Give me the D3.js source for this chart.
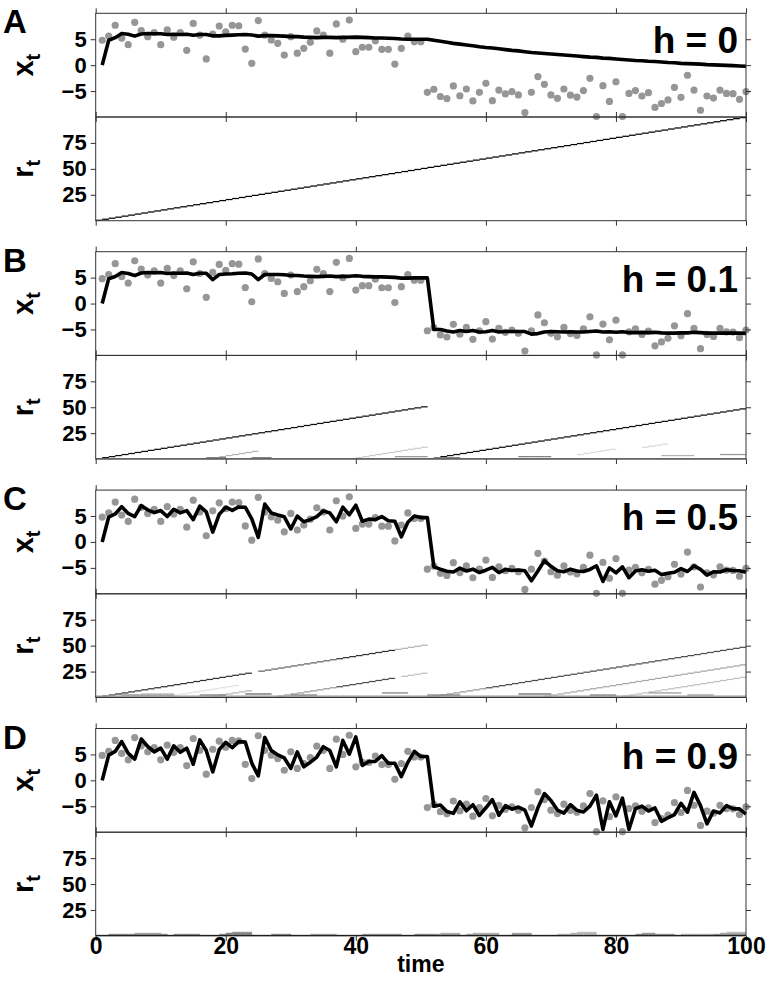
<!DOCTYPE html>
<html><head><meta charset="utf-8">
<script src="https://cdn.jsdelivr.net/npm/d3@7"></script>
<style>body{margin:0;background:#fff}svg{display:block}</style>
</head><body><svg id="c" width="771" height="1001"></svg>
<script>
const obs = [4.8,5.6,7.7,5.2,3.95,8.25,6.65,5.5,6.3,3.95,6.8,5.4,6.3,2.85,8.05,5.8,1.2,6.0,7.55,6.4,
7.7,7.6,3.1,0.35,8.6,5.8,4.85,4.2,1.95,5.5,2.3,3.25,4.4,6.6,5.8,2.3,7.95,5.0,8.7,2.6,
3.45,3.45,4.7,3.05,3.05,0.2,3.25,5.6,4.5,4.5,-5.25,-4.65,-6.05,-6.45,-4.0,-5.9,-4.6,-6.9,-5.25,-3.5,
-6.85,-4.8,-5.55,-5.1,-5.75,-9.15,-5.25,-2.2,-3.7,-5.75,-6.4,-4.6,-5.8,-6.15,-4.9,-2.55,-9.9,-3.95,-7.0,-3.2,
-9.9,-5.45,-4.9,-5.95,-5.3,-8.15,-7.4,-6.7,-4.3,-6.2,-1.95,-4.8,-8.7,-5.95,-6.35,-4.8,-5.45,-5.5,-6.6,-5.1];

const predA = [0,4.8,5.3,6.1,5.95,5.6,6.0,6.1,6.05,6.05,5.9,5.95,5.9,5.95,5.75,5.9,5.9,5.65,5.65,5.75,
5.8,5.85,5.9,5.8,5.6,5.7,5.7,5.65,5.6,5.5,5.5,5.4,5.35,5.3,5.35,5.35,5.3,5.35,5.35,5.4,
5.35,5.3,5.25,5.25,5.2,5.15,5.05,5.0,5.0,5.0,5.0,4.8,4.6,4.4,4.2,4.05,3.9,3.75,3.55,3.4,
3.3,3.15,3.0,2.85,2.75,2.6,2.45,2.35,2.25,2.15,2.05,1.95,1.85,1.75,1.65,1.55,1.5,1.35,1.3,1.2,
1.1,1.0,0.9,0.85,0.75,0.7,0.6,0.5,0.45,0.35,0.3,0.25,0.2,0.1,0.05,0.0,-0.05,-0.1,-0.15,-0.2];

const predB = [0,4.8,5.2,6.0,5.8,5.4,5.9,6.0,5.95,6.0,5.8,5.9,5.85,5.9,5.6,5.85,5.85,4.6,5.6,5.7,
5.75,5.85,5.9,5.7,4.6,5.6,5.6,5.6,5.55,5.4,5.4,5.3,5.25,5.2,5.25,5.3,5.2,5.25,5.25,5.35,
5.25,5.2,5.15,5.15,5.1,5.05,4.9,4.9,4.95,4.95,4.95,-5.0,-5.0,-5.3,-5.5,-5.2,-5.4,-5.2,-5.5,-5.45,
-5.2,-5.5,-5.4,-5.4,-5.4,-5.4,-5.9,-5.8,-5.5,-5.4,-5.45,-5.5,-5.45,-5.5,-5.5,-5.4,-5.3,-5.5,-5.45,-5.55,
-5.45,-5.6,-5.6,-5.55,-5.6,-5.55,-5.65,-5.7,-5.7,-5.65,-5.65,-5.55,-5.6,-5.7,-5.7,-5.7,-5.7,-5.7,-5.7,-5.75];

const predC = [0,4.8,5.4,6.8,5.5,4.9,7.0,6.2,5.65,6.05,4.9,6.3,5.6,6.05,4.3,6.9,5.8,1.9,5.35,6.7,
6.1,6.75,6.7,4.45,0.9,7.3,5.6,5.2,4.85,2.5,5.0,3.9,4.3,4.9,6.0,5.6,3.9,6.7,5.25,7.1,
4.0,4.4,4.3,4.9,4.1,4.0,1.0,3.8,5.0,4.7,4.7,-4.8,-5.25,-5.65,-5.8,-5.05,-5.6,-5.25,-5.9,-5.45,
-4.9,-5.9,-5.3,-5.5,-5.4,-5.55,-7.5,-5.6,-3.6,-4.7,-5.55,-5.75,-5.25,-5.6,-5.7,-5.3,-4.6,-7.6,-5.0,-5.95,
-4.8,-6.9,-5.6,-5.35,-5.65,-5.45,-6.3,-6.05,-5.85,-5.15,-5.7,-4.6,-5.3,-6.4,-5.75,-5.8,-5.35,-5.5,-5.55,-5.85];

const predD = [0,4.86,5.58,7.47,5.22,4.1,7.97,6.53,5.49,6.21,4.1,6.66,5.4,6.21,3.11,7.79,5.76,1.62,5.94,7.34,
6.3,7.47,7.38,3.33,0.86,8.28,5.76,4.91,4.32,2.3,5.49,2.61,3.47,4.5,6.48,5.76,2.61,7.7,5.04,8.37,
2.88,3.65,3.65,4.77,3.29,3.29,0.72,3.47,5.58,4.59,4.59,-5.0,-4.75,-6.0,-6.37,-4.16,-5.87,-4.7,-6.77,-5.29,
-3.71,-6.73,-4.88,-5.56,-5.15,-5.74,-8.8,-5.29,-2.54,-3.89,-5.74,-6.32,-4.7,-5.78,-6.1,-4.97,-2.86,-9.47,-4.12,-6.86,
-3.44,-9.47,-5.47,-4.97,-5.92,-5.33,-7.9,-7.22,-6.59,-4.43,-6.14,-2.32,-4.88,-8.39,-5.92,-6.28,-4.88,-5.47,-5.51,-6.5];

const preds = [predA, predB, predC, predD];
const hazardLabels = ["h = 0", "h = 0.1", "h = 0.5", "h = 0.9"];
const panelLetters = ["A", "B", "C", "D"];
const timeTicks = [0, 20, 40, 60, 80, 100];
const xtTicks = [-5, 0, 5];
const rtTicks = [25, 50, 75];

// run-length posterior, diagonal runs: [changeTime, tFrom, tTo, probability]
const runsA = [[0, 1, 100, 1]];
const runsB = [[0, 1, 51, 0.95], [51, 52, 100, 0.95], [17, 18, 25, 0.3], [39, 40, 51, 0.2],
  [70, 75, 80, 0.15], [73, 85, 88, 0.15]];
const runsC = [[0, 1, 24, 0.8], [0, 26, 37, 0.6], [0, 38, 46, 0.8], [0, 47, 51, 0.3],
  [27, 29, 37, 0.4], [27, 38, 46, 0.7], [27, 48, 51, 0.25], [17, 19, 24, 0.3], [10, 12, 22, 0.12],
  [51, 52, 60, 0.4], [51, 61, 100, 0.7], [68, 70, 100, 0.35], [80, 82, 100, 0.25]];
const runsD = [];
// horizontal bands at low run lengths: [runLength, tFrom, tTo, probability]
const bandsA = [];
const bandsB = [[1, 1, 100, 0.5], [2, 18, 20, 0.5], [2, 25, 27, 0.5], [3, 47, 51, 0.4], [2, 53, 56, 0.5],
  [3, 66, 70, 0.5], [4, 88, 92, 0.3], [5, 97, 100, 0.4]];
const bandsC = [[1, 1, 100, 0.75], [2, 1, 100, 0.35], [3, 5, 12, 0.45], [4, 8, 12, 0.3], [3, 17, 20, 0.5],
  [4, 24, 27, 0.6], [3, 31, 34, 0.5], [5, 45, 48, 0.5], [3, 52, 56, 0.5], [4, 66, 70, 0.6],
  [3, 77, 80, 0.5], [5, 86, 90, 0.4], [3, 92, 95, 0.4]];
const bandsD = [[1, 1, 100, 1], [2, 3, 11, 0.5], [3, 7, 10, 0.35], [2, 13, 16, 0.5], [2, 20, 24, 0.5],
  [3, 21, 24, 0.5], [4, 22, 24, 0.4], [2, 28, 30, 0.5], [2, 34, 37, 0.4], [2, 42, 47, 0.45],
  [2, 50, 52, 0.5], [2, 53, 56, 0.45], [3, 54, 56, 0.3], [2, 58, 62, 0.4], [3, 59, 62, 0.3],
  [2, 65, 67, 0.5], [3, 65, 67, 0.35], [2, 72, 77, 0.35], [3, 74, 77, 0.3], [4, 75, 77, 0.25],
  [2, 84, 86, 0.5], [3, 85, 86, 0.4], [2, 87, 89, 0.45], [2, 91, 95, 0.35], [2, 96, 100, 0.45],
  [3, 97, 100, 0.35], [4, 98, 100, 0.25]];
const runsAll = [runsA, runsB, runsC, runsD];
const bandsAll = [bandsA, bandsB, bandsC, bandsD];

const svg = d3.select("#c");
const L = 95.7, R = 746, H = 103.7;
const tops = [13.3, 251.7, 490.1, 728.5];
const x = d3.scaleLinear().domain([0, 100]).range([L, R]);
const axisColor = "#333";
const font = "'Liberation Sans', Arial, sans-serif";

tops.forEach((top, i) => {
  const g = svg.append("g");
  const yX = d3.scaleLinear().domain([-10, 10]).range([top + H, top]);
  const yR = d3.scaleLinear().domain([0, 100]).range([top + 2 * H, top + H]);

  // heatmap
  const clipId = "clip" + i;
  svg.append("clipPath").attr("id", clipId).append("rect")
    .attr("x", L).attr("y", top + H).attr("width", R - L).attr("height", H);
  const cells = [];
  runsAll[i].forEach(([t0, a, b, p]) => { for (let t = a; t <= b; t++) cells.push({t, k: t - t0, p}); });
  bandsAll[i].forEach(([k, a, b, p]) => { for (let t = a; t <= b; t++) cells.push({t, k, p}); });
  g.append("g").attr("clip-path", `url(#${clipId})`).selectAll("rect").data(cells).join("rect")
    .attr("x", d => x(d.t - 1)).attr("width", d => x(d.t) - x(d.t - 1) + 0.3)
    .attr("y", d => yR(d.k)).attr("height", d => yR(d.k - 1) - yR(d.k) + 0.2)
    .attr("fill", d => { const v = Math.round(255 * (1 - d.p)); return `rgb(${v},${v},${v})`; });

  // dots
  g.append("g").selectAll("circle").data(obs).join("circle")
    .attr("cx", (d, j) => x(j + 1)).attr("cy", d => yX(d)).attr("r", 3.6)
    .attr("fill", "#969696");
  // line
  g.append("path").datum(preds[i])
    .attr("d", d3.line().x((d, j) => x(j + 1)).y(d => yX(d)))
    .attr("fill", "none").attr("stroke", "#000").attr("stroke-width", 3.6)
    .attr("stroke-linejoin", "round");

  // axes
  const tick = 5;
  const mkAxes = (yS, y0, y1, ticks) => {
    g.append("rect").attr("x", L).attr("y", y0).attr("width", R - L).attr("height", y1 - y0)
      .attr("fill", "none").attr("stroke", axisColor).attr("stroke-width", 1);
    const ax = g.append("g");
    ax.append("g").attr("transform", `translate(0,${y1})`)
      .call(d3.axisBottom(x).tickValues(timeTicks).tickSize(tick).tickFormat(""));
    ax.append("g").attr("transform", `translate(0,${y0})`)
      .call(d3.axisTop(x).tickValues(timeTicks).tickSize(tick).tickFormat(""));
    ax.append("g").attr("transform", `translate(${R},0)`)
      .call(d3.axisRight(yS).tickValues(ticks).tickSize(tick).tickFormat(""));
    const la = ax.append("g").attr("transform", `translate(${L},0)`)
      .call(d3.axisLeft(yS).tickValues(ticks).tickSize(tick).tickPadding(4)
        .tickFormat(d => d < 0 ? "\u2212" + Math.abs(d) : d));
    ax.selectAll(".domain").remove();
    ax.selectAll(".tick line").attr("stroke", axisColor);
    la.selectAll("text").attr("font-family", font).attr("font-weight", "bold")
      .attr("font-size", 22).attr("fill", "#000");
  };
  mkAxes(yX, top, top + H, xtTicks);
  mkAxes(yR, top + H, top + 2 * H, rtTicks);

  // labels
  g.append("text").attr("x", 3).attr("y", top + 20).text(panelLetters[i])
    .attr("font-family", font).attr("font-weight", "bold").attr("font-size", 33);
  g.append("text").attr("x", 738).attr("y", top + 40).attr("text-anchor", "end").text(hazardLabels[i])
    .attr("font-family", font).attr("font-weight", "bold").attr("font-size", 37);
  const yl = (name, cy) => {
    const t = g.append("text").attr("transform", `translate(33,${cy}) rotate(-90)`)
      .attr("text-anchor", "middle").attr("font-family", font).attr("font-weight", "bold").attr("font-size", 29);
    t.append("tspan").text(name);
    t.append("tspan").attr("font-size", 20).attr("dy", 7).text("t");
  };
  yl("x", top + H / 2);
  yl("r", top + H * 1.5);
});

// bottom time axis labels
const bottom = tops[3] + 2 * H;
const bx = svg.append("g").attr("transform", `translate(0,${bottom})`)
  .call(d3.axisBottom(x).tickValues(timeTicks).tickSize(0).tickPadding(2));
bx.select(".domain").remove();
bx.selectAll("text").attr("font-family", font).attr("font-weight", "bold").attr("font-size", 23).attr("fill", "#000");
svg.append("text").attr("x", (L + R) / 2).attr("y", bottom + 36).attr("text-anchor", "middle")
  .attr("font-family", font).attr("font-weight", "bold").attr("font-size", 23).text("time");
</script></body></html>
